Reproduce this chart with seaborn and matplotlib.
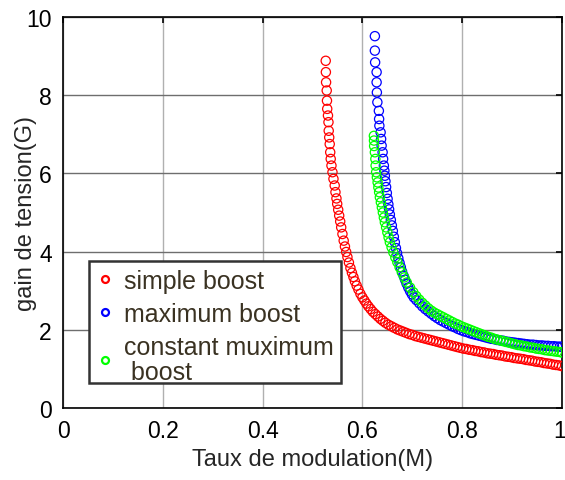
import matplotlib
matplotlib.use("Agg")
import matplotlib.pyplot as plt
import matplotlib.transforms as mtransforms
from matplotlib.patches import Rectangle
import seaborn as sns
import pandas as pd
from matplotlib.lines import Line2D

# ---------------- data ----------------
simple_M = [0.5265, 0.5268, 0.5272, 0.5285, 0.5290, 0.5295, 0.5310, 0.5320, 0.5325, 0.5335,
            0.5345, 0.5355, 0.5365, 0.5380, 0.5400, 0.5420, 0.5445, 0.5460, 0.5480, 0.5495,
            0.5515, 0.5535, 0.5555, 0.5575, 0.5600, 0.5625, 0.5650, 0.5675, 0.5700, 0.5730,
            0.5760, 0.5790, 0.5820, 0.5850, 0.5885, 0.5920, 0.5960, 0.6000, 0.6040, 0.6080,
            0.6120, 0.6165, 0.6210, 0.6260, 0.6310, 0.6360, 0.6410, 0.6460,
            0.652, 0.658, 0.664, 0.670, 0.676, 0.682, 0.688, 0.694, 0.700, 0.706,
            0.712, 0.718, 0.724, 0.730, 0.736, 0.742, 0.748, 0.754, 0.760, 0.766,
            0.772, 0.778, 0.784, 0.790, 0.796, 0.802, 0.808, 0.814, 0.820, 0.826,
            0.832, 0.838, 0.844, 0.850, 0.856, 0.862, 0.868, 0.874, 0.880, 0.886,
            0.892, 0.898, 0.904, 0.910, 0.916, 0.922, 0.928, 0.934, 0.940, 0.946,
            0.952, 0.958, 0.964, 0.970, 0.976, 0.982, 0.988, 0.994, 1.000]
simple_G = [8.88, 8.59, 8.33, 8.12, 7.86, 7.65, 7.48, 7.31, 7.09, 6.92,
            6.75, 6.54, 6.37, 6.20, 6.03, 5.86, 5.69, 5.52, 5.36, 5.22,
            5.07, 4.92, 4.77, 4.62, 4.45, 4.28, 4.13, 3.99, 3.86, 3.72,
            3.58, 3.46, 3.35, 3.24, 3.13, 3.03, 2.92, 2.83, 2.75, 2.67,
            2.60, 2.53, 2.46, 2.40, 2.34, 2.28, 2.23, 2.18,
            2.13, 2.09, 2.05, 2.01, 1.98, 1.95, 1.92, 1.89, 1.87, 1.84,
            1.82, 1.80, 1.78, 1.76, 1.74, 1.72, 1.70, 1.68, 1.66, 1.64,
            1.62, 1.60, 1.58, 1.56, 1.54, 1.52, 1.51, 1.49, 1.48, 1.46,
            1.45, 1.43, 1.42, 1.40, 1.39, 1.38, 1.36, 1.35, 1.34, 1.32,
            1.31, 1.30, 1.28, 1.27, 1.26, 1.25, 1.23, 1.22, 1.21, 1.19,
            1.18, 1.17, 1.15, 1.14, 1.13, 1.11, 1.10, 1.09, 1.07]

maximum_M = [0.6250, 0.6250, 0.6255, 0.6285, 0.6285, 0.6290, 0.6300, 0.6330, 0.6335, 0.6340,
             0.6365, 0.6375, 0.6385, 0.6405, 0.6415, 0.6430, 0.6440, 0.6450, 0.6462, 0.6475,
             0.6490, 0.6505, 0.6520, 0.6535, 0.6550, 0.6570, 0.6590, 0.6610, 0.6630, 0.6650,
             0.6672, 0.6695, 0.6720, 0.6745, 0.6770, 0.6795, 0.6825, 0.6855, 0.6885, 0.6920,
             0.6955, 0.6990, 0.7030,
             0.708, 0.714, 0.720, 0.726, 0.732, 0.738, 0.744, 0.750, 0.756, 0.762,
             0.768, 0.774, 0.780, 0.786, 0.792, 0.798, 0.804, 0.810, 0.816, 0.822,
             0.828, 0.834, 0.840, 0.846, 0.852, 0.858, 0.864, 0.870, 0.876, 0.882,
             0.888, 0.894, 0.900, 0.906, 0.912, 0.918, 0.924, 0.930, 0.936, 0.942,
             0.948, 0.954, 0.960, 0.966, 0.972, 0.978, 0.984, 0.990, 0.996, 1.000]
maximum_G = [9.51, 9.14, 8.84, 8.59, 8.33, 8.07, 7.82, 7.60, 7.39, 7.22,
             7.05, 6.88, 6.71, 6.54, 6.37, 6.20, 6.07, 5.94, 5.80, 5.65,
             5.50, 5.35, 5.21, 5.08, 4.95, 4.81, 4.67, 4.53, 4.38, 4.24,
             4.09, 3.96, 3.83, 3.71, 3.60, 3.49, 3.38, 3.28, 3.18, 3.08,
             2.99, 2.91, 2.83,
             2.76, 2.68, 2.60, 2.53, 2.47, 2.41, 2.35, 2.30, 2.25, 2.21,
             2.17, 2.13, 2.09, 2.06, 2.02, 1.99, 1.96, 1.94, 1.91, 1.89,
             1.87, 1.85, 1.83, 1.81, 1.79, 1.77, 1.76, 1.74, 1.73, 1.72,
             1.70, 1.69, 1.68, 1.67, 1.66, 1.65, 1.64, 1.63, 1.62, 1.62,
             1.61, 1.60, 1.60, 1.59, 1.59, 1.58, 1.58, 1.57, 1.57, 1.56]

constant_M = [0.6230, 0.6232, 0.6235, 0.6250, 0.6260, 0.6265, 0.6275, 0.6290, 0.6305, 0.6320,
              0.6335, 0.6350, 0.6370, 0.6390, 0.6410, 0.6430, 0.6450, 0.6475, 0.6500, 0.6525,
              0.6550, 0.6585, 0.6620, 0.6660, 0.6700, 0.6745, 0.6790, 0.6840, 0.6890, 0.6955,
              0.7020,
              0.708, 0.714, 0.720, 0.726, 0.732, 0.738, 0.744, 0.750, 0.756, 0.762,
              0.768, 0.774, 0.780, 0.786, 0.792, 0.798, 0.804, 0.810, 0.816, 0.822,
              0.828, 0.834, 0.840, 0.846, 0.852, 0.858, 0.864, 0.870, 0.876, 0.882,
              0.888, 0.894, 0.900, 0.906, 0.912, 0.918, 0.924, 0.930, 0.936, 0.942,
              0.948, 0.954, 0.960, 0.966, 0.972, 0.978, 0.984, 0.990, 0.996, 1.000]
constant_G = [6.96, 6.84, 6.70, 6.54, 6.37, 6.20, 6.03, 5.90, 5.77, 5.64,
              5.52, 5.39, 5.26, 5.13, 5.00, 4.87, 4.75, 4.62, 4.49, 4.36,
              4.24, 4.11, 3.98, 3.85, 3.73, 3.60, 3.47, 3.34, 3.21, 3.08,
              2.96,
              2.86, 2.77, 2.69, 2.62, 2.55, 2.49, 2.44, 2.40, 2.36, 2.32,
              2.28, 2.24, 2.20, 2.16, 2.13, 2.09, 2.06, 2.03, 2.00, 1.97,
              1.94, 1.91, 1.88, 1.85, 1.82, 1.80, 1.77, 1.75, 1.73, 1.71,
              1.69, 1.67, 1.65, 1.63, 1.61, 1.60, 1.58, 1.57, 1.55, 1.54,
              1.52, 1.51, 1.50, 1.48, 1.47, 1.46, 1.45, 1.44, 1.43, 1.42]

series_labels = ["simple boost", "maximum boost", "constant muximum\n boost"]
series_colors = ["#ff0000", "#0000ff", "#00ff00"]
x_ticks = [0, 0.2, 0.4, 0.6, 0.8, 1]
x_tick_labels = ["0", "0.2", "0.4", "0.6", "0.8", "1"]
y_ticks = [0, 2, 4, 6, 8, 10]
y_tick_labels = ["0", "2", "4", "6", "8", "10"]

# ---------------- figure ----------------
sns.set_style("white")
plt.rcParams["font.family"] = ["Liberation Sans", "DejaVu Sans"]

W, H = 565, 481
fig = plt.figure(figsize=(W / 100, H / 100), dpi=100)
ax = fig.add_axes([63 / W, 1 - 409 / H, (562 - 63) / W, (409 - 18) / H])

series = [(simple_M, simple_G), (maximum_M, maximum_G), (constant_M, constant_G)]
for (m, g), col in zip(series, series_colors):
    df = pd.DataFrame({"M": m, "G": g})
    sns.scatterplot(data=df, x="M", y="G", ax=ax, color=col, s=44,
                    linewidth=0.9, legend=False, zorder=3)
    coll = ax.collections[-1]
    coll.set_facecolor("none")
    coll.set_edgecolor(col)

ax.set_xlim(0, 1)
ax.set_ylim(0, 10)
ax.set_xticks(x_ticks)
ax.set_xticklabels(x_tick_labels)
ax.set_yticks(y_ticks)
ax.set_yticklabels(y_tick_labels)
ax.set_xlabel("Taux de modulation(M)", fontsize=17, labelpad=4)
ax.set_ylabel("gain de tension(G)", fontsize=17)
ax.yaxis.set_label_coords(-0.052, 0.5)

ax.set_axisbelow(True)
ax.xaxis.grid(True, color="#b0b0b0", linewidth=1.0)
ax.yaxis.grid(True, color="#6e6e6e", linewidth=1.0)
ax.tick_params(direction="in", length=4, width=1.2, top=True, right=True,
               labelsize=16.5, colors="black", pad=8)
for sp in ax.spines.values():
    sp.set_visible(True)
    sp.set_color("black")
    sp.set_linewidth(1.2)

# keep the last x tick label ("1") inside the canvas
last = ax.get_xticklabels()[-1]
last.set_horizontalalignment("right")
last.set_transform(last.get_transform() +
                   mtransforms.ScaledTranslation(4 / 100, 0, fig.dpi_scale_trans))

# legend box (opaque, square corners)
box_x0, box_x1 = (89 - 63) / 499, (341 - 63) / 499
box_y1, box_y0 = (409 - 262) / 391, (409 - 384) / 391
ax.add_patch(Rectangle((box_x0, box_y0), box_x1 - box_x0, box_y1 - box_y0,
                       transform=ax.transAxes, facecolor="white",
                       edgecolor="#333333", linewidth=1.8, zorder=4.5))

handles = [Line2D([], [], marker="o", linestyle="none", markerfacecolor="none",
                  markeredgecolor=c, markersize=5, markeredgewidth=1.6)
           for c in series_colors]
leg = ax.legend(handles, series_labels, loc="upper left",
                bbox_to_anchor=(0.052, 0.374), borderaxespad=0,
                frameon=False, fontsize=18, handlelength=0.7,
                handletextpad=0.42, borderpad=0.28, labelspacing=0.36)
leg.set_zorder(5)
for t in leg.get_texts():
    t.set_color("#3a3222")
    t.set_linespacing(1.05)

fig.savefig("out.png", dpi=100)
